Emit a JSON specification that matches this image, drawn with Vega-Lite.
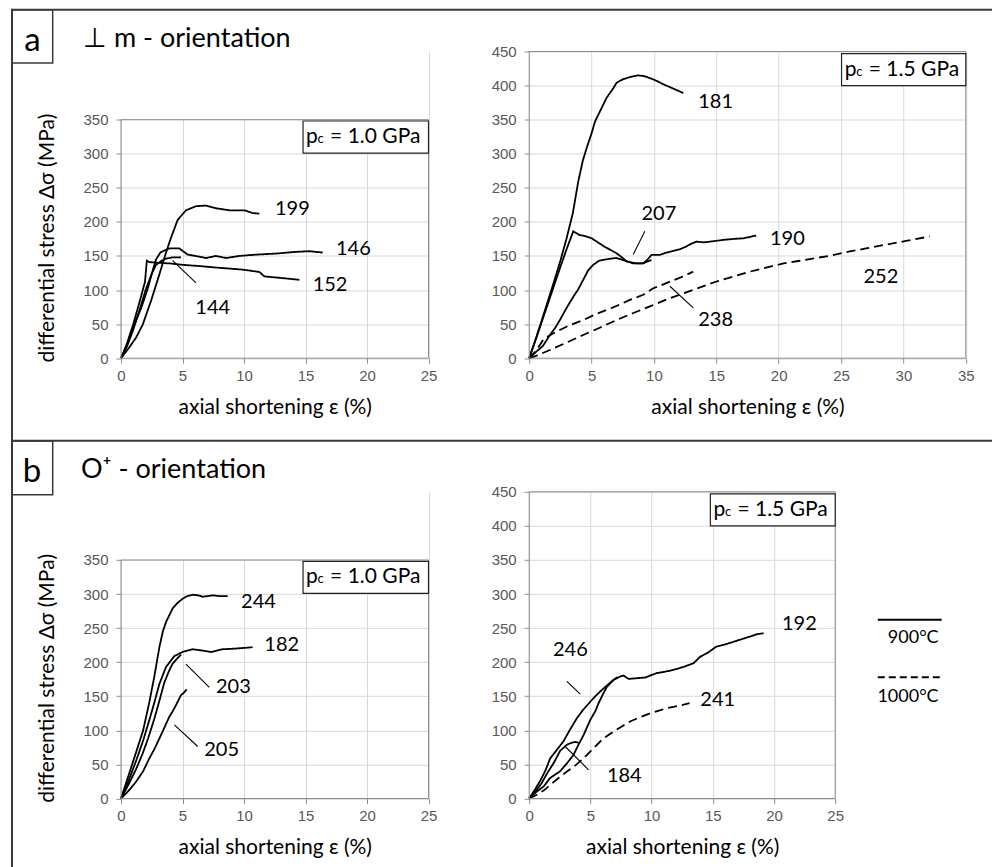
{
  "$schema": "https://vega.github.io/schema/vega-lite/v6.json",
  "padding": {"left": 10, "top": 7.5, "right": 0, "bottom": 0},
  "background": "white",
  "config": {
    "view": {"stroke": null},
    "font": "Lato",
    "axis": {"domain": false, "gridColor": "#d9d9d9", "gridWidth": 1, "tickColor": "#8c8c8c", "tickSize": 5, "tickCount": 20, "labelFont": "Liberation Sans", "labelFontSize": 15, "labelColor": "#595959", "labelFlush": false, "labelOverlap": false, "titleFont": "Lato", "titleFontSize": 21, "titleFontWeight": "normal", "titleColor": "black"},
    "axisX": {"labelPadding": 5, "titlePadding": 13},
    "axisY": {"labelPadding": 8}
  },
  "datasets": {
    "aL": [
      {"s":"199","t":"900","x":0,"y":0},{"s":"199","t":"900","x":0.6,"y":14},{"s":"199","t":"900","x":1.22,"y":30},{"s":"199","t":"900","x":1.76,"y":49},{"s":"199","t":"900","x":2.44,"y":84},{"s":"199","t":"900","x":3.12,"y":123},{"s":"199","t":"900","x":3.66,"y":155},{"s":"199","t":"900","x":4.07,"y":177},{"s":"199","t":"900","x":4.61,"y":203},{"s":"199","t":"900","x":5.28,"y":217},{"s":"199","t":"900","x":6.1,"y":223},{"s":"199","t":"900","x":6.91,"y":224},{"s":"199","t":"900","x":7.72,"y":220},{"s":"199","t":"900","x":8.81,"y":217},{"s":"199","t":"900","x":10.03,"y":217},{"s":"199","t":"900","x":10.7,"y":213},{"s":"199","t":"900","x":11.25,"y":212},
      {"s":"146","t":"900","x":0,"y":0},{"s":"146","t":"900","x":0.4,"y":15},{"s":"146","t":"900","x":0.81,"y":38},{"s":"146","t":"900","x":1.63,"y":73},{"s":"146","t":"900","x":2.17,"y":102},{"s":"146","t":"900","x":2.6,"y":130},{"s":"146","t":"900","x":2.85,"y":145},{"s":"146","t":"900","x":3.2,"y":155},{"s":"146","t":"900","x":3.52,"y":158},{"s":"146","t":"900","x":3.93,"y":161},{"s":"146","t":"900","x":4.74,"y":161},{"s":"146","t":"900","x":5.42,"y":152},{"s":"146","t":"900","x":6.37,"y":149},{"s":"146","t":"900","x":6.91,"y":147},{"s":"146","t":"900","x":7.72,"y":150},{"s":"146","t":"900","x":8.54,"y":147},{"s":"146","t":"900","x":9.62,"y":150},{"s":"146","t":"900","x":10.98,"y":152},{"s":"146","t":"900","x":12.6,"y":153.5},{"s":"146","t":"900","x":14.2,"y":156},{"s":"146","t":"900","x":15.3,"y":157},{"s":"146","t":"900","x":16.4,"y":155},
      {"s":"152","t":"900","x":0,"y":0},{"s":"152","t":"900","x":0.5,"y":22},{"s":"152","t":"900","x":1,"y":50},{"s":"152","t":"900","x":1.5,"y":82},{"s":"152","t":"900","x":1.95,"y":112},{"s":"152","t":"900","x":2.1,"y":143},{"s":"152","t":"900","x":2.3,"y":141},{"s":"152","t":"900","x":3,"y":140},{"s":"152","t":"900","x":4,"y":139},{"s":"152","t":"900","x":5.01,"y":137},{"s":"152","t":"900","x":6.5,"y":135},{"s":"152","t":"900","x":7.72,"y":133},{"s":"152","t":"900","x":9.89,"y":130},{"s":"152","t":"900","x":11.25,"y":126.5},{"s":"152","t":"900","x":11.66,"y":120},{"s":"152","t":"900","x":13.15,"y":117.5},{"s":"152","t":"900","x":14.5,"y":115},
      {"s":"144","t":"900","x":0,"y":0},{"s":"144","t":"900","x":0.5,"y":18},{"s":"144","t":"900","x":1,"y":42},{"s":"144","t":"900","x":1.5,"y":70},{"s":"144","t":"900","x":2,"y":100},{"s":"144","t":"900","x":2.5,"y":124},{"s":"144","t":"900","x":2.85,"y":137},{"s":"144","t":"900","x":3.3,"y":143},{"s":"144","t":"900","x":3.66,"y":146},{"s":"144","t":"900","x":4.2,"y":148},{"s":"144","t":"900","x":4.88,"y":148}
    ],
    "aR": [
      {"s":"181","t":"900","x":0,"y":0},{"s":"181","t":"900","x":0.5,"y":27},{"s":"181","t":"900","x":1,"y":55},{"s":"181","t":"900","x":1.5,"y":84},{"s":"181","t":"900","x":2,"y":113},{"s":"181","t":"900","x":2.5,"y":143},{"s":"181","t":"900","x":3,"y":176},{"s":"181","t":"900","x":3.5,"y":213},{"s":"181","t":"900","x":3.93,"y":259},{"s":"181","t":"900","x":4.3,"y":290},{"s":"181","t":"900","x":4.6,"y":308},{"s":"181","t":"900","x":5,"y":330},{"s":"181","t":"900","x":5.27,"y":347},{"s":"181","t":"900","x":5.67,"y":362},{"s":"181","t":"900","x":6.2,"y":382},{"s":"181","t":"900","x":6.74,"y":396},{"s":"181","t":"900","x":7,"y":404},{"s":"181","t":"900","x":7.54,"y":409.5},{"s":"181","t":"900","x":8.2,"y":413},{"s":"181","t":"900","x":8.74,"y":415},{"s":"181","t":"900","x":9.2,"y":414},{"s":"181","t":"900","x":9.68,"y":411},{"s":"181","t":"900","x":10.2,"y":407},{"s":"181","t":"900","x":10.75,"y":402},{"s":"181","t":"900","x":11.5,"y":396},{"s":"181","t":"900","x":12.35,"y":389},
      {"s":"207","t":"900","x":0,"y":0},{"s":"207","t":"900","x":0.5,"y":26},{"s":"207","t":"900","x":1,"y":53},{"s":"207","t":"900","x":1.5,"y":80},{"s":"207","t":"900","x":2,"y":107},{"s":"207","t":"900","x":2.5,"y":134},{"s":"207","t":"900","x":3,"y":160},{"s":"207","t":"900","x":3.53,"y":186},{"s":"207","t":"900","x":4,"y":181},{"s":"207","t":"900","x":4.5,"y":179},{"s":"207","t":"900","x":5,"y":176},{"s":"207","t":"900","x":5.5,"y":170},{"s":"207","t":"900","x":6,"y":164},{"s":"207","t":"900","x":6.5,"y":159},{"s":"207","t":"900","x":7,"y":154},{"s":"207","t":"900","x":7.5,"y":147},{"s":"207","t":"900","x":7.8,"y":142},{"s":"207","t":"900","x":8.6,"y":139},{"s":"207","t":"900","x":9.1,"y":139},{"s":"207","t":"900","x":9.5,"y":142},{"s":"207","t":"900","x":9.8,"y":144},
      {"s":"190","t":"900","x":0,"y":0},{"s":"190","t":"900","x":0.59,"y":10},{"s":"190","t":"900","x":1.1,"y":18},{"s":"190","t":"900","x":1.66,"y":34},{"s":"190","t":"900","x":2.1,"y":45},{"s":"190","t":"900","x":2.46,"y":56},{"s":"190","t":"900","x":2.85,"y":69},{"s":"190","t":"900","x":3.2,"y":80},{"s":"190","t":"900","x":3.6,"y":92},{"s":"190","t":"900","x":3.93,"y":101},{"s":"190","t":"900","x":4.33,"y":115},{"s":"190","t":"900","x":4.73,"y":129},{"s":"190","t":"900","x":5.13,"y":137},{"s":"190","t":"900","x":5.6,"y":143},{"s":"190","t":"900","x":6,"y":144.5},{"s":"190","t":"900","x":6.5,"y":146},{"s":"190","t":"900","x":7,"y":147},{"s":"190","t":"900","x":7.54,"y":144},{"s":"190","t":"900","x":8.34,"y":139},{"s":"190","t":"900","x":9.14,"y":139},{"s":"190","t":"900","x":9.5,"y":145},{"s":"190","t":"900","x":9.81,"y":151.7},{"s":"190","t":"900","x":10.5,"y":151.7},{"s":"190","t":"900","x":11,"y":155},{"s":"190","t":"900","x":11.55,"y":157.5},{"s":"190","t":"900","x":12.1,"y":160},{"s":"190","t":"900","x":12.6,"y":164},{"s":"190","t":"900","x":13,"y":168},{"s":"190","t":"900","x":13.4,"y":171},{"s":"190","t":"900","x":14,"y":170},{"s":"190","t":"900","x":14.5,"y":171},{"s":"190","t":"900","x":15.6,"y":173.7},{"s":"190","t":"900","x":16.4,"y":175},{"s":"190","t":"900","x":17.2,"y":176},{"s":"190","t":"900","x":17.7,"y":178},{"s":"190","t":"900","x":18.2,"y":180},
      {"s":"238","t":"1000","x":0,"y":0},{"s":"238","t":"1000","x":0.6,"y":12},{"s":"238","t":"1000","x":1.12,"y":27},{"s":"238","t":"1000","x":1.6,"y":33},{"s":"238","t":"1000","x":2.2,"y":39},{"s":"238","t":"1000","x":3.2,"y":48},{"s":"238","t":"1000","x":4.33,"y":56},{"s":"238","t":"1000","x":5.4,"y":65},{"s":"238","t":"1000","x":6.5,"y":73},{"s":"238","t":"1000","x":7.3,"y":79},{"s":"238","t":"1000","x":8.07,"y":85.6},{"s":"238","t":"1000","x":9.14,"y":93},{"s":"238","t":"1000","x":9.95,"y":102.7},{"s":"238","t":"1000","x":10.6,"y":107},{"s":"238","t":"1000","x":11.3,"y":112.5},{"s":"238","t":"1000","x":12.2,"y":119},{"s":"238","t":"1000","x":13.15,"y":127},
      {"s":"252","t":"1000","x":0,"y":0},{"s":"252","t":"1000","x":0.5,"y":3},{"s":"252","t":"1000","x":1.66,"y":12},{"s":"252","t":"1000","x":3,"y":23},{"s":"252","t":"1000","x":4.33,"y":34},{"s":"252","t":"1000","x":5.7,"y":45},{"s":"252","t":"1000","x":7,"y":56},{"s":"252","t":"1000","x":8.3,"y":66},{"s":"252","t":"1000","x":9.68,"y":76},{"s":"252","t":"1000","x":11,"y":86},{"s":"252","t":"1000","x":12.35,"y":95},{"s":"252","t":"1000","x":13.7,"y":104},{"s":"252","t":"1000","x":15,"y":112.5},{"s":"252","t":"1000","x":16.4,"y":120},{"s":"252","t":"1000","x":17.7,"y":127},{"s":"252","t":"1000","x":19,"y":133},{"s":"252","t":"1000","x":20.4,"y":139},{"s":"252","t":"1000","x":21.7,"y":143},{"s":"252","t":"1000","x":23,"y":147},{"s":"252","t":"1000","x":24.3,"y":151},{"s":"252","t":"1000","x":25.7,"y":156.6},{"s":"252","t":"1000","x":27,"y":161},{"s":"252","t":"1000","x":28.4,"y":166},{"s":"252","t":"1000","x":30.2,"y":172},{"s":"252","t":"1000","x":32.1,"y":178.6}
    ],
    "bL": [
      {"s":"244","t":"900","x":0,"y":0},{"s":"244","t":"900","x":0.6,"y":33},{"s":"244","t":"900","x":1.22,"y":67.5},{"s":"244","t":"900","x":1.8,"y":100},{"s":"244","t":"900","x":2.3,"y":141},{"s":"244","t":"900","x":2.7,"y":178},{"s":"244","t":"900","x":3.12,"y":222},{"s":"244","t":"900","x":3.4,"y":245},{"s":"244","t":"900","x":3.66,"y":259},{"s":"244","t":"900","x":4.2,"y":279},{"s":"244","t":"900","x":4.6,"y":287},{"s":"244","t":"900","x":5.01,"y":293},{"s":"244","t":"900","x":5.4,"y":297},{"s":"244","t":"900","x":5.83,"y":299},{"s":"244","t":"900","x":6.3,"y":298},{"s":"244","t":"900","x":6.64,"y":296},{"s":"244","t":"900","x":7.45,"y":298},{"s":"244","t":"900","x":8,"y":297},{"s":"244","t":"900","x":8.67,"y":297},
      {"s":"182","t":"900","x":0,"y":0},{"s":"182","t":"900","x":0.6,"y":25},{"s":"182","t":"900","x":1.22,"y":55},{"s":"182","t":"900","x":1.8,"y":85},{"s":"182","t":"900","x":2.3,"y":115},{"s":"182","t":"900","x":2.7,"y":140},{"s":"182","t":"900","x":3.12,"y":168},{"s":"182","t":"900","x":3.66,"y":193},{"s":"182","t":"900","x":4.34,"y":209},{"s":"182","t":"900","x":5.01,"y":215},{"s":"182","t":"900","x":5.83,"y":219},{"s":"182","t":"900","x":6.64,"y":217},{"s":"182","t":"900","x":7.32,"y":215},{"s":"182","t":"900","x":8.27,"y":219},{"s":"182","t":"900","x":9.35,"y":220},{"s":"182","t":"900","x":10.7,"y":222},
      {"s":"203","t":"900","x":0,"y":0},{"s":"203","t":"900","x":0.6,"y":20},{"s":"203","t":"900","x":1.2,"y":42},{"s":"203","t":"900","x":1.76,"y":66},{"s":"203","t":"900","x":2.2,"y":88},{"s":"203","t":"900","x":2.71,"y":117},{"s":"203","t":"900","x":3.1,"y":142},{"s":"203","t":"900","x":3.52,"y":170},{"s":"203","t":"900","x":3.9,"y":187},{"s":"203","t":"900","x":4.2,"y":198},{"s":"203","t":"900","x":4.6,"y":206},{"s":"203","t":"900","x":4.88,"y":211},
      {"s":"205","t":"900","x":0,"y":0},{"s":"205","t":"900","x":0.6,"y":11},{"s":"205","t":"900","x":1.22,"y":24.5},{"s":"205","t":"900","x":1.8,"y":40},{"s":"205","t":"900","x":2.3,"y":58.7},{"s":"205","t":"900","x":2.7,"y":72},{"s":"205","t":"900","x":3.12,"y":88},{"s":"205","t":"900","x":3.5,"y":103},{"s":"205","t":"900","x":3.93,"y":120},{"s":"205","t":"900","x":4.2,"y":128},{"s":"205","t":"900","x":4.47,"y":137},{"s":"205","t":"900","x":4.88,"y":151.6},{"s":"205","t":"900","x":5.1,"y":155},{"s":"205","t":"900","x":5.34,"y":160}
    ],
    "bR": [
      {"s":"246","t":"900","x":0,"y":0},{"s":"246","t":"900","x":0.5,"y":14},{"s":"246","t":"900","x":0.9,"y":26},{"s":"246","t":"900","x":1.3,"y":40},{"s":"246","t":"900","x":1.72,"y":59},{"s":"246","t":"900","x":2.2,"y":70},{"s":"246","t":"900","x":2.8,"y":84},{"s":"246","t":"900","x":3.3,"y":100},{"s":"246","t":"900","x":3.9,"y":118},{"s":"246","t":"900","x":4.4,"y":130},{"s":"246","t":"900","x":4.99,"y":142},{"s":"246","t":"900","x":5.4,"y":150},{"s":"246","t":"900","x":5.8,"y":157},{"s":"246","t":"900","x":6.3,"y":165},{"s":"246","t":"900","x":6.89,"y":174},{"s":"246","t":"900","x":7.2,"y":178},
      {"s":"192","t":"900","x":0,"y":0},{"s":"192","t":"900","x":0.6,"y":10},{"s":"192","t":"900","x":1.2,"y":18},{"s":"192","t":"900","x":1.7,"y":30},{"s":"192","t":"900","x":2.53,"y":40},{"s":"192","t":"900","x":3.1,"y":52},{"s":"192","t":"900","x":3.62,"y":64},{"s":"192","t":"900","x":4,"y":78},{"s":"192","t":"900","x":4.44,"y":93},{"s":"192","t":"900","x":4.98,"y":115},{"s":"192","t":"900","x":5.4,"y":128},{"s":"192","t":"900","x":5.67,"y":140},{"s":"192","t":"900","x":6,"y":152},{"s":"192","t":"900","x":6.35,"y":164},{"s":"192","t":"900","x":6.89,"y":174},{"s":"192","t":"900","x":7.43,"y":179},{"s":"192","t":"900","x":7.7,"y":180.4},{"s":"192","t":"900","x":8.12,"y":175.5},{"s":"192","t":"900","x":8.8,"y":176.5},{"s":"192","t":"900","x":9.48,"y":177.5},{"s":"192","t":"900","x":10.4,"y":183.9},{"s":"192","t":"900","x":11.1,"y":186},{"s":"192","t":"900","x":11.8,"y":188.8},{"s":"192","t":"900","x":12.6,"y":193},{"s":"192","t":"900","x":13.43,"y":198.5},{"s":"192","t":"900","x":13.97,"y":208},{"s":"192","t":"900","x":14.6,"y":214},{"s":"192","t":"900","x":15.3,"y":223},{"s":"192","t":"900","x":16,"y":226},{"s":"192","t":"900","x":16.7,"y":230},{"s":"192","t":"900","x":17.4,"y":234},{"s":"192","t":"900","x":18.06,"y":237.7},{"s":"192","t":"900","x":18.6,"y":241},{"s":"192","t":"900","x":19.15,"y":242.5},
      {"s":"184","t":"900","x":0,"y":0},{"s":"184","t":"900","x":0.5,"y":10},{"s":"184","t":"900","x":1,"y":22},{"s":"184","t":"900","x":1.5,"y":38},{"s":"184","t":"900","x":2,"y":52},{"s":"184","t":"900","x":2.53,"y":70},{"s":"184","t":"900","x":3.08,"y":79},{"s":"184","t":"900","x":3.5,"y":82},{"s":"184","t":"900","x":3.76,"y":83},{"s":"184","t":"900","x":4.03,"y":82},
      {"s":"241","t":"1000","x":0,"y":0},{"s":"241","t":"1000","x":0.63,"y":5.4},{"s":"241","t":"1000","x":1.2,"y":12},{"s":"241","t":"1000","x":1.72,"y":20},{"s":"241","t":"1000","x":2.4,"y":30},{"s":"241","t":"1000","x":3.08,"y":39.6},{"s":"241","t":"1000","x":3.8,"y":49},{"s":"241","t":"1000","x":4.44,"y":59},{"s":"241","t":"1000","x":5.1,"y":71},{"s":"241","t":"1000","x":5.8,"y":83.6},{"s":"241","t":"1000","x":6.3,"y":91},{"s":"241","t":"1000","x":6.89,"y":98.3},{"s":"241","t":"1000","x":7.6,"y":106},{"s":"241","t":"1000","x":8.25,"y":113},{"s":"241","t":"1000","x":9,"y":119},{"s":"241","t":"1000","x":9.89,"y":125},{"s":"241","t":"1000","x":10.6,"y":129},{"s":"241","t":"1000","x":11.25,"y":132.5},{"s":"241","t":"1000","x":12.2,"y":136},{"s":"241","t":"1000","x":13.1,"y":139.9}
    ],
    "aL_lab": [{"label":"199","x":12.52,"y":219.3},{"label":"146","x":17.48,"y":160.7},{"label":"152","x":15.58,"y":106.8},{"label":"144","x":6.04,"y":73.8}],
    "aR_lab": [{"label":"181","x":13.55,"y":375.9},{"label":"207","x":9.0,"y":212.3},{"label":"190","x":19.3,"y":175.6},{"label":"252","x":26.8,"y":119.3},{"label":"238","x":13.55,"y":55.8}],
    "bL_lab": [{"label":"244","x":9.76,"y":289},{"label":"182","x":11.65,"y":224.5},{"label":"203","x":7.72,"y":163.5},{"label":"205","x":6.77,"y":71.5}],
    "bR_lab": [{"label":"246","x":1.94,"y":218.6},{"label":"192","x":20.65,"y":256},{"label":"241","x":13.98,"y":143.8},{"label":"184","x":6.35,"y":33.7}],
    "aL_ld": [{"x":4.2,"y":143.3,"x2":6.1,"y2":110.5}],
    "aR_ld": [{"x":9.27,"y":186.3,"x2":8.34,"y2":152.1},{"x":11.28,"y":105.6,"x2":13.15,"y2":73.8}],
    "bL_ld": [{"x":5.28,"y":197,"x2":7.18,"y2":162.9},{"x":4.34,"y":108.1,"x2":6.24,"y2":76.3}],
    "bR_ld": [{"x":3.08,"y":171.7,"x2":4.17,"y2":153},{"x":2.94,"y":76.3,"x2":4.85,"y2":42.1}]
  },
  "columns": 2,
  "align": "each",
  "bounds": "flush",
  "spacing": {"row": 133.3, "column": 100.2},
  "concat": [
    {
      "width": 307.5, "height": 306.7,
      "layer": [
        {"data": {"name": "aL"}, "mark": {"type": "line", "color": "black", "strokeWidth": 1.8},
         "encoding": {
           "x": {"field": "x", "type": "quantitative", "scale": {"domain": [0, 25], "nice": false, "zero": false, "padding": 0}, "axis": {"title": "axial shortening ε (%)", "values": [0, 5, 10, 15, 20, 25]}},
           "y": {"field": "y", "type": "quantitative", "scale": {"domain": [0, 450], "nice": false, "padding": 0}, "axis": {"title": "differential stress Δσ (MPa)", "values": [0, 50, 100, 150, 200, 250, 300, 350], "titleX": -74, "titleY": 186, "titleBaseline": "middle"}},
           "detail": {"field": "s"},
           "strokeDash": {"field": "t", "type": "nominal", "scale": {"domain": ["900", "1000"], "range": [[1, 0], [9, 5]]}, "legend": null}}},
        {"data": {"values": [{}]}, "mark": {"type": "rect", "fill": "white"},
         "encoding": {"x": {"datum": 0}, "x2": {"datum": 25}, "y": {"datum": 350}, "y2": {"datum": 450}}},
        {"data": {"values": [{}]}, "mark": {"type": "rect", "fill": null, "stroke": "#8c8c8c", "strokeWidth": 1},
         "encoding": {"x": {"datum": 0}, "x2": {"datum": 25}, "y": {"datum": 0}, "y2": {"datum": 350}}},
        {"data": {"name": "aL_ld"}, "mark": {"type": "rule", "color": "black", "strokeWidth": 1.1},
         "encoding": {"x": {"field": "x", "type": "quantitative"}, "y": {"field": "y", "type": "quantitative"}, "x2": {"field": "x2"}, "y2": {"field": "y2"}}},
        {"data": {"name": "aL_lab"}, "mark": {"type": "text", "align": "left", "baseline": "middle", "font": "Lato", "fontSize": 20, "color": "black"},
         "encoding": {"x": {"field": "x", "type": "quantitative"}, "y": {"field": "y", "type": "quantitative"}, "text": {"field": "label"}}},
        {"data": {"values": [{}]}, "mark": {"type": "rect", "fill": "white", "stroke": "#222", "strokeWidth": 1.2},
         "encoding": {"x": {"datum": 14.8}, "x2": {"datum": 25}, "y": {"datum": 301}, "y2": {"datum": 348}}},
        {"data": {"values": [{}]}, "mark": {"type": "text", "text": "p", "align": "left", "baseline": "alphabetic", "fontSize": 21, "color": "black"},
         "encoding": {"x": {"datum": 15.05}, "y": {"datum": 315.7}}},
        {"data": {"values": [{}]}, "mark": {"type": "text", "text": "c", "align": "left", "baseline": "alphabetic", "fontSize": 13, "dx": 11.5, "color": "black"},
         "encoding": {"x": {"datum": 15.05}, "y": {"datum": 315.7}}},
        {"data": {"values": [{}]}, "mark": {"type": "text", "text": "= 1.0 GPa", "align": "left", "baseline": "alphabetic", "fontSize": 21, "dx": 24, "color": "black"},
         "encoding": {"x": {"datum": 15.05}, "y": {"datum": 315.7}}},
        {"data": {"values": [{}]}, "mark": {"type": "rule", "color": "#3a3a3a", "strokeWidth": 2, "strokeCap": "square"},
         "encoding": {"x": {"datum": -8.862}, "y": {"datum": 511.33}, "y2": {"datum": -746.7}}},
        {"data": {"values": [{}]}, "mark": {"type": "rect", "fill": null, "stroke": "#3a3a3a", "strokeWidth": 1.5},
         "encoding": {"x": {"datum": -8.862}, "x2": {"datum": -5.553}, "y": {"datum": 433.27}, "y2": {"datum": 511.33}}},
        {"data": {"values": [{}]}, "mark": {"type": "text", "text": "a", "align": "center", "baseline": "alphabetic", "fontSize": 33, "color": "black"},
         "encoding": {"x": {"datum": -7.195}, "y": {"datum": 451.46}}},
        {"data": {"values": [{}]}, "mark": {"type": "text", "text": "⊥ m - orientation", "align": "left", "baseline": "alphabetic", "fontSize": 27, "color": "black"},
         "encoding": {"x": {"datum": -3.089}, "y": {"datum": 456.3}}}
      ]
    },
    {
      "width": 436.6, "height": 306.7,
      "layer": [
        {"data": {"name": "aR"}, "mark": {"type": "line", "color": "black", "strokeWidth": 1.8},
         "encoding": {
           "x": {"field": "x", "type": "quantitative", "scale": {"domain": [0, 35], "nice": false, "zero": false, "padding": 0}, "axis": {"title": "axial shortening ε (%)", "values": [0, 5, 10, 15, 20, 25, 30, 35]}},
           "y": {"field": "y", "type": "quantitative", "scale": {"domain": [0, 450], "nice": false, "padding": 0}, "axis": {"title": null, "values": [0, 50, 100, 150, 200, 250, 300, 350, 400, 450]}},
           "detail": {"field": "s"},
           "strokeDash": {"field": "t", "type": "nominal", "scale": {"domain": ["900", "1000"], "range": [[1, 0], [9, 5]]}, "legend": null}}},
        {"data": {"values": [{}]}, "mark": {"type": "rect", "fill": null, "stroke": "#8c8c8c", "strokeWidth": 1},
         "encoding": {"x": {"datum": 0}, "x2": {"datum": 35}, "y": {"datum": 0}, "y2": {"datum": 450}}},
        {"data": {"name": "aR_ld"}, "mark": {"type": "rule", "color": "black", "strokeWidth": 1.1},
         "encoding": {"x": {"field": "x", "type": "quantitative"}, "y": {"field": "y", "type": "quantitative"}, "x2": {"field": "x2"}, "y2": {"field": "y2"}}},
        {"data": {"name": "aR_lab"}, "mark": {"type": "text", "align": "left", "baseline": "middle", "font": "Lato", "fontSize": 20, "color": "black"},
         "encoding": {"x": {"field": "x", "type": "quantitative"}, "y": {"field": "y", "type": "quantitative"}, "text": {"field": "label"}}},
        {"data": {"values": [{}]}, "mark": {"type": "rect", "fill": "white", "stroke": "#222", "strokeWidth": 1.2},
         "encoding": {"x": {"datum": 25.04}, "x2": {"datum": 35}, "y": {"datum": 400}, "y2": {"datum": 447}}},
        {"data": {"values": [{}]}, "mark": {"type": "text", "text": "p", "align": "left", "baseline": "alphabetic", "fontSize": 21, "color": "black"},
         "encoding": {"x": {"datum": 25.3}, "y": {"datum": 414.7}}},
        {"data": {"values": [{}]}, "mark": {"type": "text", "text": "c", "align": "left", "baseline": "alphabetic", "fontSize": 13, "dx": 11.5, "color": "black"},
         "encoding": {"x": {"datum": 25.3}, "y": {"datum": 414.7}}},
        {"data": {"values": [{}]}, "mark": {"type": "text", "text": "= 1.5 GPa", "align": "left", "baseline": "alphabetic", "fontSize": 21, "dx": 24, "color": "black"},
         "encoding": {"x": {"datum": 25.3}, "y": {"datum": 414.7}}},
        {"data": {"values": [{}]}, "mark": {"type": "rule", "color": "#3a3a3a", "strokeWidth": 2},
         "encoding": {"x": {"datum": -41.43}, "x2": {"datum": 37.14}, "y": {"datum": 511.33}}},
        {"data": {"values": [{}]}, "mark": {"type": "rule", "color": "#3a3a3a", "strokeWidth": 2},
         "encoding": {"x": {"datum": -41.43}, "x2": {"datum": 37.14}, "y": {"datum": -121.05}}}
      ]
    },
    {
      "width": 307.5, "height": 306.7,
      "layer": [
        {"data": {"name": "bL"}, "mark": {"type": "line", "color": "black", "strokeWidth": 1.8},
         "encoding": {
           "x": {"field": "x", "type": "quantitative", "scale": {"domain": [0, 25], "nice": false, "zero": false, "padding": 0}, "axis": {"title": "axial shortening ε (%)", "values": [0, 5, 10, 15, 20, 25]}},
           "y": {"field": "y", "type": "quantitative", "scale": {"domain": [0, 450], "nice": false, "padding": 0}, "axis": {"title": "differential stress Δσ (MPa)", "values": [0, 50, 100, 150, 200, 250, 300, 350], "titleX": -74, "titleY": 186, "titleBaseline": "middle"}},
           "detail": {"field": "s"},
           "strokeDash": {"field": "t", "type": "nominal", "scale": {"domain": ["900", "1000"], "range": [[1, 0], [9, 5]]}, "legend": null}}},
        {"data": {"values": [{}]}, "mark": {"type": "rect", "fill": "white"},
         "encoding": {"x": {"datum": 0}, "x2": {"datum": 25}, "y": {"datum": 350}, "y2": {"datum": 450}}},
        {"data": {"values": [{}]}, "mark": {"type": "rect", "fill": null, "stroke": "#8c8c8c", "strokeWidth": 1},
         "encoding": {"x": {"datum": 0}, "x2": {"datum": 25}, "y": {"datum": 0}, "y2": {"datum": 350}}},
        {"data": {"name": "bL_ld"}, "mark": {"type": "rule", "color": "black", "strokeWidth": 1.1},
         "encoding": {"x": {"field": "x", "type": "quantitative"}, "y": {"field": "y", "type": "quantitative"}, "x2": {"field": "x2"}, "y2": {"field": "y2"}}},
        {"data": {"name": "bL_lab"}, "mark": {"type": "text", "align": "left", "baseline": "middle", "font": "Lato", "fontSize": 20, "color": "black"},
         "encoding": {"x": {"field": "x", "type": "quantitative"}, "y": {"field": "y", "type": "quantitative"}, "text": {"field": "label"}}},
        {"data": {"values": [{}]}, "mark": {"type": "rect", "fill": "white", "stroke": "#222", "strokeWidth": 1.2},
         "encoding": {"x": {"datum": 14.8}, "x2": {"datum": 25}, "y": {"datum": 301}, "y2": {"datum": 348}}},
        {"data": {"values": [{}]}, "mark": {"type": "text", "text": "p", "align": "left", "baseline": "alphabetic", "fontSize": 21, "color": "black"},
         "encoding": {"x": {"datum": 15.05}, "y": {"datum": 315.7}}},
        {"data": {"values": [{}]}, "mark": {"type": "text", "text": "c", "align": "left", "baseline": "alphabetic", "fontSize": 13, "dx": 11.5, "color": "black"},
         "encoding": {"x": {"datum": 15.05}, "y": {"datum": 315.7}}},
        {"data": {"values": [{}]}, "mark": {"type": "text", "text": "= 1.0 GPa", "align": "left", "baseline": "alphabetic", "fontSize": 21, "dx": 24, "color": "black"},
         "encoding": {"x": {"datum": 15.05}, "y": {"datum": 315.7}}},
        {"data": {"values": [{}]}, "mark": {"type": "rect", "fill": null, "stroke": "#3a3a3a", "strokeWidth": 1.5},
         "encoding": {"x": {"datum": -8.862}, "x2": {"datum": -5.553}, "y": {"datum": 445.6}, "y2": {"datum": 524.54}}},
        {"data": {"values": [{}]}, "mark": {"type": "text", "text": "b", "align": "center", "baseline": "alphabetic", "fontSize": 33, "color": "black"},
         "encoding": {"x": {"datum": -7.236}, "y": {"datum": 465.1}}},
        {"data": {"values": [{}]}, "mark": {"type": "text", "text": "O⁺ - orientation", "align": "left", "baseline": "alphabetic", "fontSize": 27, "color": "black"},
         "encoding": {"x": {"datum": -3.252}, "y": {"datum": 469.95}}}
      ]
    },
    {
      "width": 306, "height": 306.7,
      "layer": [
        {"data": {"name": "bR"}, "mark": {"type": "line", "color": "black", "strokeWidth": 1.8},
         "encoding": {
           "x": {"field": "x", "type": "quantitative", "scale": {"domain": [0, 25], "nice": false, "zero": false, "padding": 0}, "axis": {"title": "axial shortening ε (%)", "values": [0, 5, 10, 15, 20, 25]}},
           "y": {"field": "y", "type": "quantitative", "scale": {"domain": [0, 450], "nice": false, "padding": 0}, "axis": {"title": null, "values": [0, 50, 100, 150, 200, 250, 300, 350, 400, 450]}},
           "detail": {"field": "s"},
           "strokeDash": {"field": "t", "type": "nominal", "scale": {"domain": ["900", "1000"], "range": [[1, 0], [9, 5]]}, "legend": null}}},
        {"data": {"values": [{}]}, "mark": {"type": "rect", "fill": null, "stroke": "#8c8c8c", "strokeWidth": 1},
         "encoding": {"x": {"datum": 0}, "x2": {"datum": 25}, "y": {"datum": 0}, "y2": {"datum": 450}}},
        {"data": {"name": "bR_ld"}, "mark": {"type": "rule", "color": "black", "strokeWidth": 1.1},
         "encoding": {"x": {"field": "x", "type": "quantitative"}, "y": {"field": "y", "type": "quantitative"}, "x2": {"field": "x2"}, "y2": {"field": "y2"}}},
        {"data": {"name": "bR_lab"}, "mark": {"type": "text", "align": "left", "baseline": "middle", "font": "Lato", "fontSize": 20, "color": "black"},
         "encoding": {"x": {"field": "x", "type": "quantitative"}, "y": {"field": "y", "type": "quantitative"}, "text": {"field": "label"}}},
        {"data": {"values": [{}]}, "mark": {"type": "rect", "fill": "white", "stroke": "#222", "strokeWidth": 1.2},
         "encoding": {"x": {"datum": 14.8}, "x2": {"datum": 25}, "y": {"datum": 400}, "y2": {"datum": 447}}},
        {"data": {"values": [{}]}, "mark": {"type": "text", "text": "p", "align": "left", "baseline": "alphabetic", "fontSize": 21, "color": "black"},
         "encoding": {"x": {"datum": 15.05}, "y": {"datum": 414.7}}},
        {"data": {"values": [{}]}, "mark": {"type": "text", "text": "c", "align": "left", "baseline": "alphabetic", "fontSize": 13, "dx": 11.5, "color": "black"},
         "encoding": {"x": {"datum": 15.05}, "y": {"datum": 414.7}}},
        {"data": {"values": [{}]}, "mark": {"type": "text", "text": "= 1.5 GPa", "align": "left", "baseline": "alphabetic", "fontSize": 21, "dx": 24, "color": "black"},
         "encoding": {"x": {"datum": 15.05}, "y": {"datum": 414.7}}},
        {"data": {"values": [{}]}, "mark": {"type": "rule", "color": "black", "strokeWidth": 2},
         "encoding": {"x": {"datum": 28.48}, "x2": {"datum": 33.7}, "y": {"datum": 262.2}}},
        {"data": {"values": [{}]}, "mark": {"type": "rule", "color": "black", "strokeWidth": 2, "strokeDash": [7, 4]},
         "encoding": {"x": {"datum": 28.48}, "x2": {"datum": 33.7}, "y": {"datum": 178}}},
        {"data": {"values": [{}]}, "mark": {"type": "text", "text": "900°C", "align": "right", "baseline": "middle", "fontSize": 18, "color": "black"},
         "encoding": {"x": {"datum": 33.45}, "y": {"datum": 236.2}}},
        {"data": {"values": [{}]}, "mark": {"type": "text", "text": "1000°C", "align": "right", "baseline": "middle", "fontSize": 18, "color": "black"},
         "encoding": {"x": {"datum": 33.45}, "y": {"datum": 149.6}}}
      ]
    }
  ]
}
